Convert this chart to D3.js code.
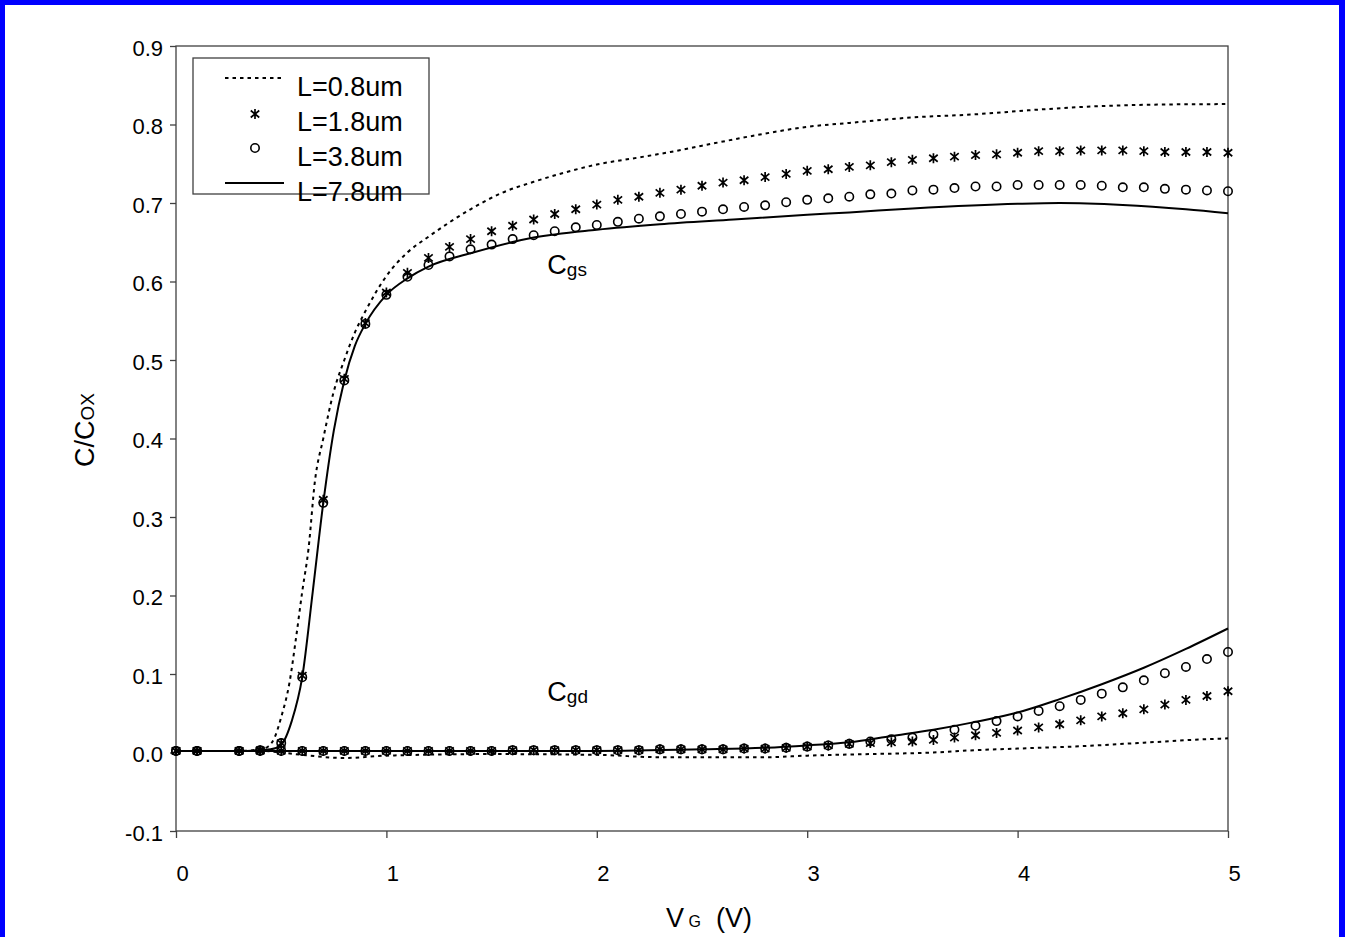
<!DOCTYPE html>
<html lang="en">
<head>
<meta charset="utf-8">
<title>C/Cox vs VG</title>
<script src="https://cdn.jsdelivr.net/npm/d3@7"></script>
<style>
  body { margin: 0; background: #fff; }
  text { font-family: Arial, "Liberation Sans", sans-serif; fill: #000; }
</style>
</head>
<body>
<script>
// marker voltages (0.2 V point is missing in the original)
var vMarks = [0, 0.1, 0.3, 0.4, 0.5, 0.6, 0.7, 0.8, 0.9, 1.0, 1.1, 1.2, 1.3, 1.4, 1.5, 1.6, 1.7, 1.8, 1.9, 2.0,
              2.1, 2.2, 2.3, 2.4, 2.5, 2.6, 2.7, 2.8, 2.9, 3.0, 3.1, 3.2, 3.3, 3.4, 3.5, 3.6, 3.7, 3.8, 3.9, 4.0,
              4.1, 4.2, 4.3, 4.4, 4.5, 4.6, 4.7, 4.8, 4.9, 5.0];

// L=1.8um (stars)
var cgs18 = [0.002, 0.002, 0.002, 0.003, 0.012, 0.098, 0.322, 0.476, 0.547, 0.586, 0.611, 0.630, 0.644, 0.654, 0.664, 0.671, 0.679, 0.686, 0.692, 0.698,
             0.704, 0.708, 0.713, 0.717, 0.722, 0.726, 0.729, 0.733, 0.737, 0.741, 0.743, 0.746, 0.748, 0.752, 0.755, 0.757, 0.759, 0.761, 0.762, 0.764,
             0.766, 0.766, 0.767, 0.767, 0.767, 0.766, 0.765, 0.765, 0.765, 0.764];
var cgd18 = [0.002, 0.002, 0.002, 0.002, 0.002, 0.002, 0.002, 0.002, 0.002, 0.002, 0.002, 0.002, 0.002, 0.002, 0.002, 0.003, 0.003, 0.003, 0.003, 0.003,
             0.003, 0.003, 0.004, 0.004, 0.004, 0.004, 0.005, 0.005, 0.006, 0.0075, 0.009, 0.011, 0.012, 0.013, 0.014, 0.016, 0.019, 0.022, 0.025, 0.028,
             0.032, 0.036, 0.041, 0.046, 0.050, 0.055, 0.061, 0.067, 0.072, 0.078];

// L=3.8um (circles)
var cgs38 = [0.002, 0.002, 0.002, 0.003, 0.012, 0.096, 0.318, 0.474, 0.546, 0.583, 0.606, 0.621, 0.632, 0.641, 0.647, 0.654, 0.659, 0.664, 0.669, 0.672,
             0.676, 0.680, 0.683, 0.686, 0.689, 0.692, 0.695, 0.697, 0.701, 0.704, 0.706, 0.708, 0.711, 0.712, 0.716, 0.717, 0.719, 0.721, 0.721, 0.723,
             0.723, 0.723, 0.723, 0.722, 0.720, 0.720, 0.718, 0.717, 0.716, 0.715];
var cgd38 = [0.002, 0.002, 0.002, 0.002, 0.002, 0.002, 0.002, 0.002, 0.002, 0.002, 0.002, 0.002, 0.002, 0.002, 0.002, 0.003, 0.003, 0.003, 0.003, 0.003,
             0.003, 0.003, 0.004, 0.004, 0.004, 0.004, 0.005, 0.005, 0.006, 0.0075, 0.009, 0.011, 0.014, 0.017, 0.019, 0.023, 0.029, 0.034, 0.040, 0.046,
             0.053, 0.059, 0.067, 0.075, 0.083, 0.092, 0.101, 0.109, 0.119, 0.128];

// L=0.8um (dotted line)
var v08gs = [0, 0.3, 0.4, 0.44, 0.47, 0.5, 0.54, 0.57, 0.6, 0.63, 0.66, 0.7, 0.75, 0.8, 0.85, 0.9, 1.0, 1.1, 1.2, 1.4,
             1.55, 1.7, 1.85, 2.0, 2.2, 2.35, 2.5, 2.75, 3.0, 3.2, 3.5, 3.8, 4.1, 4.4, 4.7, 5.0];
var cgs08 = [0.002, 0.002, 0.004, 0.008, 0.02, 0.045, 0.09, 0.145, 0.205, 0.26, 0.345, 0.40, 0.46, 0.50, 0.535, 0.562, 0.607, 0.637, 0.657, 0.692,
             0.713, 0.727, 0.739, 0.749, 0.758, 0.765, 0.773, 0.786, 0.797, 0.802, 0.809, 0.813, 0.819, 0.8235, 0.8255, 0.826];
var v08gd = [0, 0.4, 0.5, 0.6, 0.8, 1.0, 1.5, 2.0, 2.3, 2.8, 3.0, 3.3, 3.6, 3.8, 4.0, 4.3, 4.6, 4.9, 5.0];
var cgd08 = [0.002, 0.002, 0.0, -0.003, -0.007, -0.004, -0.002, -0.003, -0.006, -0.006, -0.004, -0.002, 0.0, 0.003, 0.005, 0.008, 0.0125, 0.017, 0.018];

// L=7.8um (solid line)
var v78gs = [0, 0.3, 0.4, 0.45, 0.5, 0.55, 0.6, 0.65, 0.7, 0.75, 0.8, 0.85, 0.9, 1.0, 1.1, 1.2, 1.4, 1.7, 2.0, 2.3,
             2.65, 3.0, 3.2, 3.5, 4.0, 4.2, 4.5, 4.8, 5.0];
var cgs78 = [0.002, 0.002, 0.003, 0.004, 0.01, 0.04, 0.096, 0.205, 0.318, 0.41, 0.474, 0.518, 0.546, 0.583, 0.604, 0.619, 0.636, 0.656, 0.666, 0.673,
             0.679, 0.685, 0.688, 0.693, 0.699, 0.700, 0.6975, 0.692, 0.687];
var v78gd = [0, 1.0, 2.0, 2.5, 2.8, 3.0, 3.2, 3.4, 3.6, 3.8, 4.0, 4.2, 4.4, 4.6, 4.8, 5.0];
var cgd78 = [0.002, 0.002, 0.002, 0.004, 0.006, 0.009, 0.013, 0.021, 0.029, 0.039, 0.051, 0.068, 0.087, 0.108, 0.132, 0.158];

var xTicks = [0, 1, 2, 3, 4, 5];
var yTicks = [-0.1, 0.0, 0.1, 0.2, 0.3, 0.4, 0.5, 0.6, 0.7, 0.8, 0.9];
var legendLabels = ['L=0.8um', 'L=1.8um', 'L=3.8um', 'L=7.8um'];

var W = 1345, H = 937;
var plotL = 176, plotR = 1228, plotT = 46, plotB = 831;

var svg = d3.select('body').append('svg')
    .attr('width', W)
    .attr('height', H);

// blue frame round the picture
svg.append('rect').attr('width', W).attr('height', H).attr('fill', '#0000ff');
svg.append('rect').attr('x', 5).attr('y', 5).attr('width', W - 11).attr('height', H).attr('fill', '#fff');

var x = d3.scaleLinear().domain([0, 5]).range([plotL, plotR]);
var y = d3.scaleLinear().domain([-0.1, 0.9]).range([plotB, plotT]);

var axisColor = '#404040';

// plot box
svg.append('rect')
    .attr('x', plotL).attr('y', plotT)
    .attr('width', plotR - plotL).attr('height', plotB - plotT)
    .attr('fill', 'none').attr('stroke', axisColor).attr('stroke-width', 1.3);

var xAxis = svg.append('g')
    .attr('transform', 'translate(0,' + plotB + ')')
    .call(d3.axisBottom(x).tickValues(xTicks).tickSize(7).tickFormat(d3.format('d')));
xAxis.select('.domain').remove();
xAxis.selectAll('line').attr('stroke', axisColor).attr('stroke-width', 1.3);
xAxis.selectAll('text')
    .attr('font-size', '22px')
    .attr('dx', 6)
    .attr('y', 0).attr('dy', 50)
    .attr('fill', '#000');

var fmt = d3.format('.1f');
var yAxis = svg.append('g')
    .attr('transform', 'translate(' + plotL + ',0)')
    .call(d3.axisLeft(y).tickValues(yTicks).tickSize(6).tickPadding(7)
        .tickFormat(function(d) { return fmt(d).replace('\u2212', '-'); }));
yAxis.select('.domain').remove();
yAxis.selectAll('line').attr('stroke', axisColor).attr('stroke-width', 1.3);
yAxis.selectAll('text')
    .attr('font-size', '22px')
    .attr('dy', '0.42em')
    .attr('fill', '#000');

// axis titles
var xt = svg.append('text')
    .attr('x', 709).attr('y', 927)
    .attr('text-anchor', 'middle')
    .attr('font-size', '27px');
xt.append('tspan').text('V');
xt.append('tspan').attr('font-size', '16px').text(' G');
xt.append('tspan').attr('xml:space', 'preserve').text('  (V)');

var yt = svg.append('text')
    .attr('transform', 'translate(94,430) rotate(-90)')
    .attr('text-anchor', 'middle')
    .attr('font-size', '27px');
yt.append('tspan').text('C/C');
yt.append('tspan').attr('font-size', '19px').text('OX');

// curve labels
function subLabel(px, py, main, sub) {
    var t = svg.append('text').attr('x', px).attr('y', py).attr('font-size', '27px');
    t.append('tspan').text(main);
    t.append('tspan').attr('font-size', '19px').attr('dy', 2).text(sub);
}
subLabel(x(1.765), y(0.61), 'C', 'gs');
subLabel(x(1.765), y(0.065), 'C', 'gd');

// lines
var line = d3.line()
    .x(function(d) { return x(d[0]); })
    .y(function(d) { return y(d[1]); })
    .curve(d3.curveMonotoneX);

function pairs(xs, ys) {
    return xs.map(function(v, i) { return [v, ys[i]]; });
}

var dotted = '3.5,4';
[[v08gs, cgs08], [v08gd, cgd08]].forEach(function(s) {
    svg.append('path')
        .attr('d', line(pairs(s[0], s[1])))
        .attr('fill', 'none').attr('stroke', '#000')
        .attr('stroke-width', 2).attr('stroke-dasharray', dotted);
});
[[v78gs, cgs78], [v78gd, cgd78]].forEach(function(s) {
    svg.append('path')
        .attr('d', line(pairs(s[0], s[1])))
        .attr('fill', 'none').attr('stroke', '#000')
        .attr('stroke-width', 2);
});

// asterisk: vertical bar plus an x
var star = {
    draw: function(ctx, size) {
        var r = Math.sqrt(size) / 2;
        ctx.moveTo(0, -r); ctx.lineTo(0, r);
        ctx.moveTo(-r * 0.85, -r * 0.7); ctx.lineTo(r * 0.85, r * 0.7);
        ctx.moveTo(-r * 0.85, r * 0.7); ctx.lineTo(r * 0.85, -r * 0.7);
    }
};
var starPath = d3.symbol().type(star).size(100)();

[cgs18, cgd18].forEach(function(vals) {
    svg.append('g').selectAll('path')
        .data(pairs(vMarks, vals))
        .enter()
        .append('path')
        .attr('d', starPath)
        .attr('transform', function(d) { return 'translate(' + x(d[0]) + ',' + y(d[1]) + ')'; })
        .attr('fill', 'none').attr('stroke', '#000').attr('stroke-width', 1.7);
});

[cgs38, cgd38].forEach(function(vals) {
    svg.append('g').selectAll('circle')
        .data(pairs(vMarks, vals))
        .enter()
        .append('circle')
        .attr('cx', function(d) { return x(d[0]); })
        .attr('cy', function(d) { return y(d[1]); })
        .attr('r', 4.2)
        .attr('fill', 'none').attr('stroke', '#000').attr('stroke-width', 1.6);
});

// legend
var lg = svg.append('g');
lg.append('rect')
    .attr('x', 193).attr('y', 58).attr('width', 236).attr('height', 136)
    .attr('fill', '#fff').attr('stroke', axisColor).attr('stroke-width', 1.3);
var rows = [78, 114, 148, 183];
lg.append('line').attr('x1', 225).attr('x2', 284).attr('y1', rows[0]).attr('y2', rows[0])
    .attr('stroke', '#000').attr('stroke-width', 2).attr('stroke-dasharray', dotted);
lg.append('path').attr('d', starPath).attr('transform', 'translate(255,' + rows[1] + ')')
    .attr('fill', 'none').attr('stroke', '#000').attr('stroke-width', 1.7);
lg.append('circle').attr('cx', 255).attr('cy', rows[2]).attr('r', 4.2)
    .attr('fill', 'none').attr('stroke', '#000').attr('stroke-width', 1.6);
lg.append('line').attr('x1', 225).attr('x2', 284).attr('y1', rows[3]).attr('y2', rows[3])
    .attr('stroke', '#000').attr('stroke-width', 2);
lg.selectAll('text.lab')
    .data(legendLabels)
    .enter()
    .append('text')
    .attr('class', 'lab')
    .attr('x', 297)
    .attr('y', function(d, i) { return [96, 131, 166, 201][i]; })
    .attr('font-size', '27px')
    .text(function(d) { return d; });
</script>
</body>
</html>
